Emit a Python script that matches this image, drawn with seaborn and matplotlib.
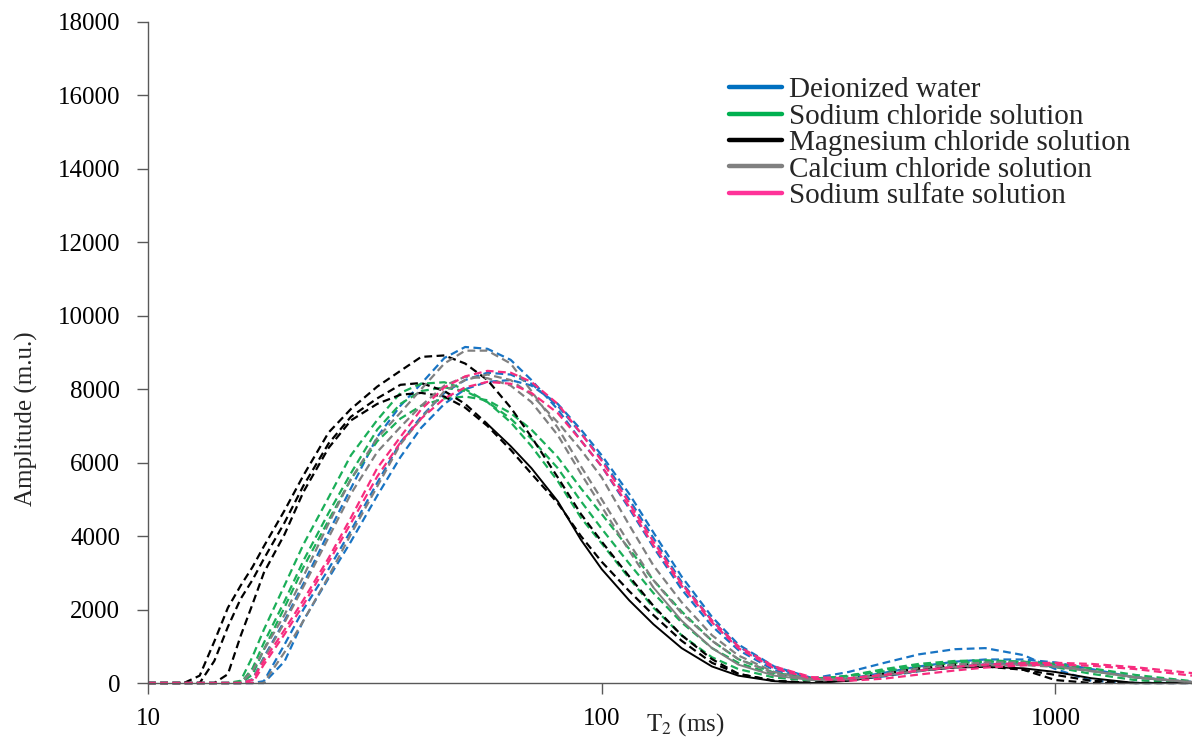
import matplotlib
matplotlib.use('Agg')
import matplotlib.pyplot as plt
from matplotlib.lines import Line2D
import numpy as np
import pandas as pd
import seaborn as sns

# T2 grid (ms) shared by all curves
t2 = [10, 12, 13, 14, 15, 16, 17, 18, 20, 22, 25, 28, 32, 36, 40, 45, 50, 56, 63, 70,
      80, 90, 100, 115, 130, 150, 175, 200, 240, 290, 350, 420, 500, 600, 700, 850,
      1000, 1200, 1500, 2000]

# Deionized water
dw_1 = [0, 0, 0, 0, 0, 0, 100, 700, 1700, 2700, 4100, 5300, 6700, 7550, 8150, 8850, 9150, 9100, 8800, 8250,
        7450, 6600, 5900, 4750, 3700, 2550, 1550, 900, 350, 120, 300, 550, 780, 920, 950, 760, 380, 60, 0, 0]
dw_2 = [0, 0, 0, 0, 0, 0, 0, 50, 1050, 2000, 3100, 4150, 5450, 6550, 7250, 7900, 8250, 8450, 8400, 8150,
        7550, 6800, 6100, 5000, 3950, 2750, 1700, 1000, 420, 130, 120, 280, 450, 580, 640, 640, 560, 380, 150, 20]
dw_3 = [0, 0, 0, 0, 0, 0, 0, 0, 590, 1700, 2850, 3850, 5100, 6150, 6950, 7600, 8000, 8200, 8250, 8100,
        7600, 6900, 6200, 5150, 4100, 2900, 1800, 1050, 450, 140, 80, 180, 320, 440, 510, 530, 480, 350, 160, 30]

# Sodium chloride solution
nc_1 = [0, 0, 0, 0, 0, 60, 720, 1450, 2660, 3770, 5050, 6200, 7160, 7900, 8150, 8190, 8000, 7650, 7100, 6450,
        5500, 4500, 3800, 2850, 2050, 1300, 700, 380, 150, 60, 200, 380, 520, 600, 620, 580, 430, 250, 80, 0]
nc_2 = [0, 0, 0, 0, 0, 0, 400, 1090, 2230, 3330, 4630, 5710, 6900, 7600, 7950, 8050, 7950, 7650, 7200, 6650,
        5850, 4950, 4200, 3250, 2450, 1650, 950, 550, 230, 100, 200, 350, 480, 560, 590, 570, 480, 330, 150, 20]
nc_3 = [0, 0, 0, 0, 0, 0, 230, 910, 2060, 3150, 4430, 5550, 6580, 7200, 7550, 7750, 7800, 7700, 7350, 6900,
        6150, 5300, 4600, 3650, 2800, 1950, 1150, 650, 280, 120, 180, 320, 450, 540, 580, 580, 520, 400, 220, 50]

# Magnesium chloride solution
mc_1 = [0, 0, 200, 1130, 2050, 2650, 3160, 3720, 4700, 5650, 6820, 7460, 8070, 8500, 8880, 8920, 8700, 8250, 7500, 6700,
        5600, 4600, 3850, 2900, 2100, 1300, 650, 250, 60, 0, 100, 250, 400, 500, 500, 360, 80, 0, 0, 0]
mc_2 = [0, 0, 0, 600, 1530, 2290, 2810, 3380, 4370, 5370, 6520, 7250, 7750, 8120, 8170, 7950, 7600, 7050, 6450, 5850,
        4950, 3900, 3100, 2250, 1600, 950, 450, 200, 50, 0, 60, 200, 330, 420, 440, 400, 300, 130, 0, 0]
mc_3 = [0, 0, 0, 0, 240, 1280, 2150, 3000, 4050, 5200, 6400, 7150, 7600, 7850, 7900, 7800, 7500, 7000, 6350, 5700,
        4900, 4000, 3300, 2500, 1850, 1150, 550, 250, 60, 0, 80, 250, 380, 450, 450, 360, 220, 60, 0, 0]

# Calcium chloride solution
cc_1 = [0, 0, 0, 0, 0, 0, 330, 900, 1860, 2900, 4340, 5550, 6670, 7360, 8000, 8700, 9050, 9050, 8700, 7950,
        6950, 5900, 5000, 3800, 2800, 1900, 1150, 650, 260, 90, 120, 250, 400, 500, 560, 560, 480, 330, 150, 20]
cc_2 = [0, 0, 0, 0, 0, 0, 100, 670, 1650, 2620, 3960, 5150, 6290, 6970, 7550, 8100, 8340, 8300, 8100, 7650,
        6750, 5700, 4800, 3600, 2600, 1700, 950, 500, 200, 80, 100, 200, 330, 440, 500, 510, 460, 330, 150, 20]
cc_3 = [0, 0, 0, 0, 0, 0, 0, 0, 840, 1690, 2900, 4050, 5350, 6500, 7200, 7950, 8250, 8400, 8250, 7850,
        7100, 6350, 5600, 4300, 3200, 2200, 1300, 750, 300, 100, 100, 200, 330, 430, 480, 490, 440, 320, 160, 30]

# Sodium sulfate solution
ss_1 = [0, 0, 0, 0, 0, 0, 80, 600, 1450, 2260, 3400, 4500, 5850, 6700, 7450, 8050, 8350, 8500, 8450, 8200,
        7600, 6800, 6050, 4900, 3850, 2700, 1700, 1000, 450, 160, 130, 220, 340, 440, 500, 540, 550, 520, 430, 270]
ss_2 = [0, 0, 0, 0, 0, 0, 0, 500, 1330, 2130, 3290, 4350, 5620, 6550, 7200, 7750, 8050, 8200, 8150, 7900,
        7350, 6600, 5900, 4800, 3750, 2650, 1650, 950, 400, 120, 60, 120, 230, 340, 420, 480, 500, 470, 380, 200]

labels = ['Deionized water', 'Sodium chloride solution', 'Magnesium chloride solution',
          'Calcium chloride solution', 'Sodium sulfate solution']
colors = ['#1874C4', '#1AAE58', '#000000', '#808080', '#F72C7E']
legend_colors = ['#0070C0', '#00B050', '#000000', '#808080', '#FF3399']
groups = [[dw_1, dw_2, dw_3], [nc_1, nc_2, nc_3], [mc_1, mc_2, mc_3],
          [cc_1, cc_2, cc_3], [ss_1, ss_2]]
# curves that turn solid from this T2 on
solid_from = {id(mc_2): 56, id(cc_2): 130}

sns.set_theme(style='white')
plt.rcParams['font.family'] = ['Liberation Serif', 'DejaVu Serif']
plt.rcParams['mathtext.fontset'] = 'stix'

fig = plt.figure(figsize=(11.92, 7.38), dpi=100)
ax = fig.add_axes([148 / 1192, 55 / 738, 1 - 148 / 1192, 661 / 738])

dash = (0, (3.5, 2.0))
for label, color, curves in zip(labels, colors, groups):
    for amp in curves:
        df = pd.DataFrame({'T2': t2, 'amp': amp})
        cut = solid_from.get(id(amp))
        if cut is None:
            sns.lineplot(data=df, x='T2', y='amp', ax=ax, color=color, lw=1.6,
                         linestyle=dash, clip_on=False, legend=False)
        else:
            sns.lineplot(data=df[df['T2'] <= cut], x='T2', y='amp', ax=ax, color=color,
                         lw=1.6, linestyle=dash, clip_on=False, legend=False)
            sns.lineplot(data=df[df['T2'] >= cut], x='T2', y='amp', ax=ax, color=color,
                         lw=1.4, linestyle='-', clip_on=False, legend=False)

ax.set_xscale('log')
ax.set_xlim(10, 2000)
ax.set_ylim(0, 18000)
ax.set_xticks([10, 100, 1000])
ax.set_xticklabels(['10', '100', '1000'])
ax.xaxis.set_minor_locator(matplotlib.ticker.NullLocator())
ax.set_yticks(np.arange(0, 18001, 2000))
ax.set_yticklabels([str(v) for v in range(0, 18001, 2000)])

for s in ['top', 'right']:
    ax.spines[s].set_visible(False)
for s in ['left', 'bottom']:
    ax.spines[s].set_color('#595959')
    ax.spines[s].set_linewidth(1.0)
ax.tick_params(axis='y', which='major', direction='out', length=8, width=1.0,
               color='#595959', labelsize=18, labelcolor='black', pad=12, left=True)
ax.tick_params(axis='x', which='major', direction='out', length=8, width=1.0,
               color='#595959', labelsize=18, labelcolor='black', pad=10, bottom=True)

ax.set_ylabel('Amplitude (m.u.)', fontsize=18)
ax.yaxis.set_label_coords(-0.105, 0.40)
ax.set_xlabel(r'$\mathrm{T}_2$ (ms)', fontsize=18)
ax.xaxis.set_label_coords(0.515, -0.042)

handles = [Line2D([0], [0], color=c, lw=3.2) for c in legend_colors]
ax.legend(handles, labels, loc='upper left', bbox_to_anchor=(729 / 1192, (738 - 77) / 738),
          bbox_transform=fig.transFigure, frameon=False, fontsize=21, labelspacing=0.0,
          handlelength=1.8, handletextpad=0.27, borderpad=0, borderaxespad=0)

fig.savefig('out.png', dpi=100)
